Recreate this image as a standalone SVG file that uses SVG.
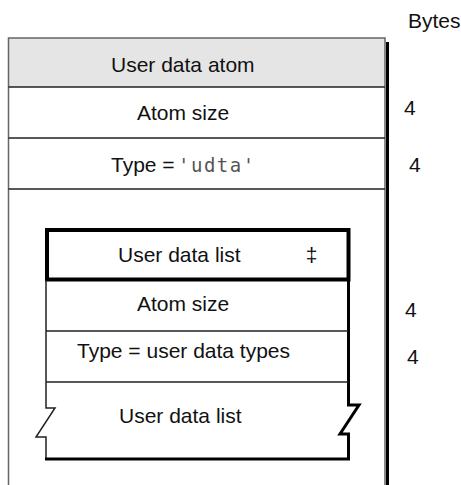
<svg xmlns="http://www.w3.org/2000/svg" width="461" height="485" viewBox="0 0 461 485">
<style>
.t{font-family:"Liberation Sans",Arial,sans-serif;font-size:21px;fill:#111}
.m{font-family:"DejaVu Sans Mono","Liberation Mono",monospace;font-size:19px;letter-spacing:1.5px;fill:#555}
.thin{stroke:#222;stroke-width:1.5;fill:none}
.gray{stroke:#666;stroke-width:1.5;fill:none}
.thick{stroke:#000;stroke-width:3;fill:none}
</style>
<rect width="461" height="485" fill="#fff"/>
<g id="bytes-column">
<text class="t" x="408" y="28">Bytes</text>
<text class="t" x="404" y="115">4</text>
<text class="t" x="409" y="172">4</text>
<text class="t" x="405" y="317">4</text>
<text class="t" x="407" y="364">4</text>
</g>
<g id="user-data-atom">
<rect x="8.5" y="38" width="376.5" height="49" fill="#e5e5e5"/>
<path class="gray" d="M8.5 485 V38 H385 V485"/>
<path class="thick" d="M387.5 42 V485"/>
<path class="thin" d="M8.5 87 H385 M8.5 138 H385 M8.5 189 H385"/>
<text class="t" x="111" y="72">User data atom</text>
</g>
<g id="atom-size">
<text class="t" x="137" y="119.5">Atom size</text>
</g>
<g id="type-udta">
<text class="t" x="111" y="172">Type = <tspan class="m" x="178">'udta'</tspan></text>
</g>
<g id="user-data-list">
<rect x="47" y="230" width="301.5" height="49.5" fill="#fff" stroke="#000" stroke-width="4"/>
<text class="t" x="118" y="262">User data list</text>
<text class="t" x="311.5" y="262" text-anchor="middle">‡</text>
<path class="thin" d="M46 280 V408 H55 L36 437 H46 V459"/>
<path class="thick" d="M348.5 280 V405 H359 L340 434 H348.5 V459"/>
<path class="thick" d="M45 459 H350"/>
<path class="thin" d="M46 331 H348 M46 382 H348"/>
</g>
<g id="list-atom-size">
<text class="t" x="137" y="311">Atom size</text>
</g>
<g id="list-type">
<text class="t" x="77" y="358">Type = user data types</text>
</g>
<g id="list-data">
<text class="t" x="119" y="423">User data list</text>
</g>
</svg>
